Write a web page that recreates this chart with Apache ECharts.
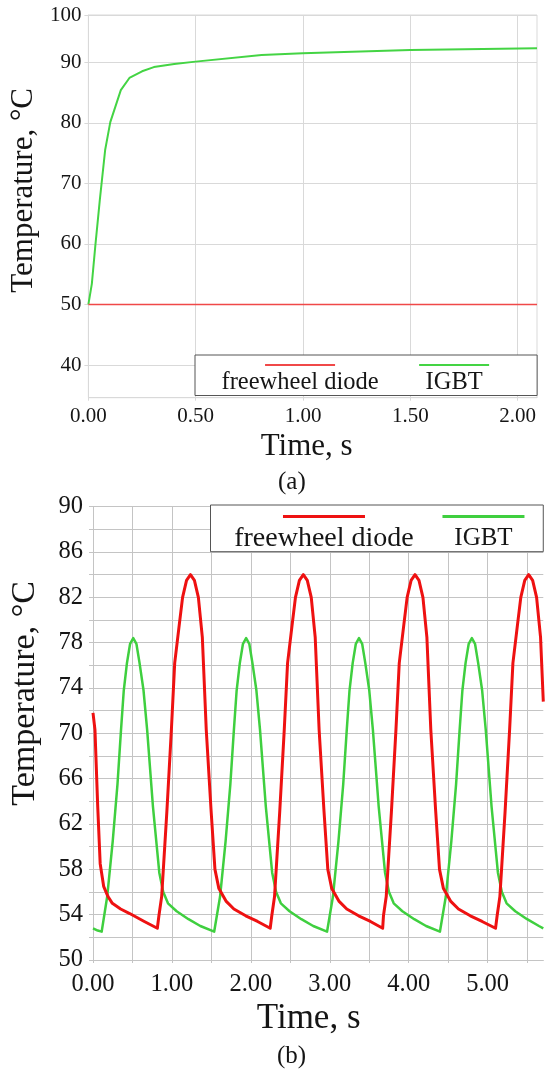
<!DOCTYPE html>
<html><head><meta charset="utf-8">
<script src="https://cdn.jsdelivr.net/npm/echarts@6/dist/echarts.min.js"></script>
<style>html,body{margin:0;padding:0;background:#fff}#c{width:546px;height:1071px}</style>
</head><body><div id="c"></div>
<script>
// ---------- data ----------
const seriesNames = ['freewheel diode', 'IGBT'];

// (a) start-up transient
const timeA  = [0, 0.016, 0.032, 0.053, 0.078, 0.102, 0.151, 0.191, 0.25, 0.305, 0.40, 0.499, 0.807, 0.998, 1.50, 2.09];
const igbtA  = [50, 53.4, 59.6, 67.2, 75.5, 80.1, 85.4, 87.4, 88.5, 89.2, 89.7, 90.1, 91.2, 91.5, 92.0, 92.3];
const diodeA = [50, 50, 50, 50, 50, 50, 50, 50, 50, 50, 50, 50, 50, 50, 50, 50];
const xTickValsA = [0, 0.5, 1.0, 1.5, 2.0];
const yTickValsA = [40, 50, 60, 70, 80, 90, 97.8];
const yLabelsA   = ['40', '50', '60', '70', '80', '90', '100'];

// (b) periodic operation
const timeDiodeB = [0, 0.025, 0.06, 0.091, 0.135, 0.19, 0.245, 0.35, 0.465, 0.65, 0.815,
  0.835, 0.87, 0.935, 0.993, 1.035, 1.095, 1.135, 1.185, 1.235, 1.285, 1.335, 1.385, 1.435, 1.495, 1.545, 1.595, 1.685, 1.785, 1.935, 2.085, 2.245,
  2.265, 2.30, 2.365, 2.423, 2.465, 2.525, 2.565, 2.615, 2.665, 2.715, 2.765, 2.815, 2.865, 2.925, 2.975, 3.025, 3.115, 3.215, 3.365, 3.515, 3.67,
  3.68, 3.715, 3.78, 3.838, 3.88, 3.94, 3.98, 4.03, 4.08, 4.13, 4.18, 4.23, 4.28, 4.34, 4.39, 4.44, 4.53, 4.63, 4.78, 4.93, 5.10,
  5.12, 5.155, 5.22, 5.278, 5.32, 5.38, 5.42, 5.47, 5.52, 5.57, 5.62, 5.67, 5.705];
const tempDiodeB = [71.8, 70.3, 63.5, 58.5, 56.5, 55.6, 55.0, 54.5, 54.1, 53.4, 52.8,
  53.9, 55.6, 63.0, 70.3, 76.2, 79.7, 82.0, 83.5, 84.0, 83.5, 82.0, 78.5, 70.3, 63.3, 58.0, 56.3, 55.2, 54.5, 53.9, 53.4, 52.8,
  53.9, 55.6, 63.0, 70.3, 76.2, 79.7, 82.0, 83.5, 84.0, 83.5, 82.0, 78.5, 70.3, 63.3, 58.0, 56.3, 55.2, 54.5, 53.9, 53.4, 52.8,
  53.9, 55.6, 63.0, 70.3, 76.2, 79.7, 82.0, 83.5, 84.0, 83.5, 82.0, 78.5, 70.3, 63.3, 58.0, 56.3, 55.2, 54.5, 53.9, 53.4, 52.8,
  53.9, 55.6, 63.0, 70.3, 76.2, 79.7, 82.0, 83.5, 84.0, 83.5, 82.0, 78.5, 72.8];
const timeIgbtB = [0, 0.06, 0.11,
  0.18, 0.25, 0.31, 0.355, 0.39, 0.43, 0.47, 0.51, 0.55, 0.59, 0.64, 0.686, 0.76, 0.84, 0.89, 0.95, 1.06, 1.21, 1.36, 1.535,
  1.61, 1.68, 1.74, 1.785, 1.82, 1.86, 1.90, 1.94, 1.98, 2.02, 2.07, 2.116, 2.19, 2.27, 2.32, 2.38, 2.49, 2.64, 2.79, 2.965,
  3.04, 3.11, 3.17, 3.215, 3.25, 3.29, 3.33, 3.37, 3.41, 3.45, 3.50, 3.546, 3.62, 3.70, 3.75, 3.81, 3.92, 4.07, 4.22, 4.395,
  4.47, 4.54, 4.60, 4.645, 4.68, 4.72, 4.76, 4.80, 4.84, 4.88, 4.93, 4.976, 5.05, 5.13, 5.18, 5.24, 5.35, 5.50, 5.65, 5.705];
const tempIgbtB = [52.8, 52.6, 52.5,
  55.6, 60.5, 65.5, 70.3, 73.8, 76.2, 77.9, 78.4, 77.9, 76.2, 73.8, 70.3, 63.5, 57.7, 56.0, 55.0, 54.3, 53.6, 53.0, 52.5,
  55.6, 60.5, 65.5, 70.3, 73.8, 76.2, 77.9, 78.4, 77.9, 76.2, 73.8, 70.3, 63.5, 57.7, 56.0, 55.0, 54.3, 53.6, 53.0, 52.5,
  55.6, 60.5, 65.5, 70.3, 73.8, 76.2, 77.9, 78.4, 77.9, 76.2, 73.8, 70.3, 63.5, 57.7, 56.0, 55.0, 54.3, 53.6, 53.0, 52.5,
  55.6, 60.5, 65.5, 70.3, 73.8, 76.2, 77.9, 78.4, 77.9, 76.2, 73.8, 70.3, 63.5, 57.7, 56.0, 55.0, 54.3, 53.6, 53.0, 52.8];
const xTickValsB  = [0, 0.5, 1, 1.5, 2, 2.5, 3, 3.5, 4, 4.5, 5, 5.5];
const xLabelValsB = [0, 1, 2, 3, 4, 5];
const yTickValsB  = [50, 52, 54, 56, 58, 60, 62, 64, 66, 68, 70, 72, 74, 76, 78, 80, 82, 84, 86, 88, 90];
const yLabelValsB = [50, 54, 58, 62, 66, 70, 74, 78, 82, 86, 90];

// ---------- chart ----------
const FONT = "'Liberation Serif', 'Times New Roman', serif";
const INK = '#151515';
const GRID_A = '#d9d9d9';
const GRID_B = '#c4c4c4';
const RED_A = '#f04848', GREEN_A = '#44d444';
const RED_B = '#ee1111', GREEN_B = '#3fcf3f';
const pairs = (xs, ys) => xs.map((x, i) => [x, ys[i]]);
const near = (arr, v) => arr.findIndex(t => Math.abs(t - v) < 1e-6);

const chart = echarts.init(document.getElementById('c'), null, {renderer: 'canvas', width: 546, height: 1071});
const option = {
  animation: false,
  backgroundColor: '#fff',
  textStyle: {fontFamily: FONT, color: INK},
  title: [
    {text: '(a)', left: 278, top: 470, padding: 0, textStyle: {fontFamily: FONT, fontSize: 25, fontWeight: 'normal', color: INK}},
    {text: '(b)', left: 277, top: 1044, padding: 0, textStyle: {fontFamily: FONT, fontSize: 25, fontWeight: 'normal', color: INK}}
  ],
  legend: [
    {
      data: seriesNames, left: 195, top: 355, orient: 'horizontal', selectedMode: false,
      icon: 'none', itemWidth: 0, itemHeight: 0, itemGap: 35.5,
      padding: [-2.5, 48, 0, 21.5], backgroundColor: '#fff', borderColor: '#555', borderWidth: 1,
      formatter: n => (n === seriesNames[0] ? '{lr|}' : '{lg|}') + '\n{t|' + n + '}',
      textStyle: {fontFamily: FONT, color: INK, fontSize: 24.5, rich: {
        lr: {width: 70, height: 2, lineHeight: 2, backgroundColor: RED_A, align: 'center'},
        lg: {width: 70, height: 2, lineHeight: 2, backgroundColor: GREEN_A, align: 'center'},
        t: {fontFamily: FONT, fontSize: 24.5, lineHeight: 34, color: INK, align: 'center'}
      }}
    },
    {
      data: seriesNames, left: 210.5, top: 505, orient: 'horizontal', selectedMode: false,
      icon: 'none', itemWidth: 0, itemHeight: 0, itemGap: 23.7,
      padding: [-1.5, 18.8, -0.8, 18.7], backgroundColor: '#fff', borderColor: '#555', borderWidth: 1,
      formatter: n => n === seriesNames[0] ? '{lr|}\n{t1|' + n + '}' : '{lg|}\n{t2|' + n + '}',
      textStyle: {fontFamily: FONT, color: INK, fontSize: 26, rich: {
        lr: {width: 82, height: 3, lineHeight: 3, backgroundColor: RED_B, align: 'center'},
        lg: {width: 82, height: 3, lineHeight: 3, backgroundColor: GREEN_B, align: 'center'},
        t1: {fontFamily: FONT, fontSize: 28, lineHeight: 41, color: INK, align: 'center'},
        t2: {fontFamily: FONT, fontSize: 25, lineHeight: 41, color: INK, align: 'center'}
      }}
    }
  ],
  grid: [
    {left: 88, top: 15, width: 449, height: 382.7, show: true, borderColor: GRID_A, borderWidth: 1, backgroundColor: 'transparent'},
    {left: 92, top: 506.7, width: 451.3, height: 453.3}
  ],
  xAxis: [
    {
      gridIndex: 0, type: 'value', min: 0, max: 2.09,
      axisLine: {show: true, onZero: false, lineStyle: {color: GRID_A, width: 1}},
      axisTick: {show: true, customValues: xTickValsA, length: 3, lineStyle: {color: GRID_A}},
      splitLine: {show: true, lineStyle: {color: GRID_A, width: 1}},
      axisLabel: {customValues: xTickValsA, formatter: v => v.toFixed(2), fontFamily: FONT, fontSize: 21, margin: 8, color: INK},
      name: 'Time, s', nameLocation: 'middle', nameGap: 34,
      nameTextStyle: {fontFamily: FONT, fontSize: 31, color: INK, padding: [0, 12, 0, 0]}
    },
    {
      gridIndex: 1, type: 'value', min: 0, max: 5.705,
      axisLine: {show: true, onZero: false, lineStyle: {color: GRID_B, width: 1}},
      axisTick: {show: true, customValues: xTickValsB, length: 3, lineStyle: {color: GRID_B}},
      splitLine: {show: true, lineStyle: {color: GRID_B, width: 1}},
      axisLabel: {customValues: xLabelValsB, formatter: v => v.toFixed(2), fontFamily: FONT, fontSize: 24.5, margin: 12, color: INK},
      name: 'Time, s', nameLocation: 'middle', nameGap: 41,
      nameTextStyle: {fontFamily: FONT, fontSize: 35, color: INK, padding: [0, 19, 0, 0]}
    }
  ],
  yAxis: [
    {
      gridIndex: 0, type: 'value', min: 34.6, max: 97.8,
      axisLine: {show: true, onZero: false, lineStyle: {color: GRID_A, width: 1}},
      axisTick: {show: true, customValues: yTickValsA, length: 4, lineStyle: {color: GRID_A}},
      splitLine: {show: true, lineStyle: {color: GRID_A, width: 1}},
      axisLabel: {customValues: yTickValsA, formatter: v => yLabelsA[near(yTickValsA, v)], fontFamily: FONT, fontSize: 21, margin: 7, color: INK},
      name: 'Temperature, °C', nameLocation: 'middle', nameRotate: 90, nameGap: 41,
      nameTextStyle: {fontFamily: FONT, fontSize: 31, color: INK, padding: [0, 0, 0, 32]}
    },
    {
      gridIndex: 1, type: 'value', min: 50, max: 90,
      axisLine: {show: true, onZero: false, lineStyle: {color: GRID_B, width: 1}},
      axisTick: {show: true, customValues: yTickValsB, length: 4, lineStyle: {color: GRID_B}},
      splitLine: {show: true, lineStyle: {color: GRID_B, width: 1}},
      axisLabel: {customValues: yLabelValsB, formatter: v => String(v), fontFamily: FONT, fontSize: 24.5, margin: 10, color: INK},
      name: 'Temperature, °C', nameLocation: 'middle', nameRotate: 90, nameGap: 51,
      nameTextStyle: {fontFamily: FONT, fontSize: 34, color: INK, padding: [0, 0, 0, 80]}
    }
  ],
  series: [
    {name: seriesNames[1], type: 'line', xAxisIndex: 0, yAxisIndex: 0, data: pairs(timeA, igbtA),
     symbol: 'none', showSymbol: false, lineStyle: {color: GREEN_A, width: 2}, itemStyle: {color: GREEN_A}},
    {name: seriesNames[0], type: 'line', xAxisIndex: 0, yAxisIndex: 0, data: pairs(timeA, diodeA),
     symbol: 'none', showSymbol: false, lineStyle: {color: RED_A, width: 1.5}, itemStyle: {color: RED_A}},
    {name: seriesNames[1], type: 'line', xAxisIndex: 1, yAxisIndex: 1, data: pairs(timeIgbtB, tempIgbtB),
     symbol: 'none', showSymbol: false, lineStyle: {color: GREEN_B, width: 2.5, join: 'round'}, itemStyle: {color: GREEN_B}},
    {name: seriesNames[0], type: 'line', xAxisIndex: 1, yAxisIndex: 1, data: pairs(timeDiodeB, tempDiodeB),
     symbol: 'none', showSymbol: false, lineStyle: {color: RED_B, width: 3, join: 'round'}, itemStyle: {color: RED_B}}
  ]
};
chart.setOption(option);
</script>
</body></html>
